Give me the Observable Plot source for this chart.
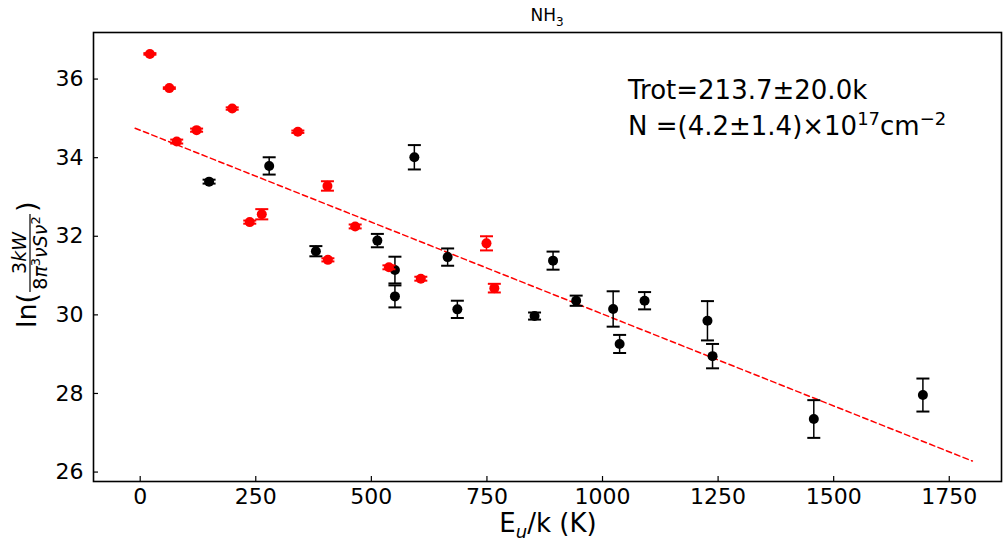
<!DOCTYPE html>
<html>
<head>
<meta charset="utf-8">
<script src="https://cdn.jsdelivr.net/npm/d3@7"></script>
<script src="https://cdn.jsdelivr.net/npm/@observablehq/plot@0.6"></script>
<style>
  html, body { margin: 0; padding: 0; background: #fff; }
  #chart { width: 1003px; height: 542px; }
  svg text { font-family: "DejaVu Sans", sans-serif; }
</style>
</head>
<body>
<div id="chart"></div>
<script>
// Red points (E_u/k, value, error)
const redX   = [21, 63, 79, 122, 199, 341, 237, 263, 405, 465, 406, 538, 607, 749, 766];
const redY   = [36.64, 35.77, 34.41, 34.70, 35.25, 34.66, 32.36, 32.56, 33.28, 32.25, 31.40, 31.21, 30.92, 31.82, 30.68];
const redErr = [0.02, 0.02, 0.05, 0.04, 0.03, 0.03, 0.04, 0.13, 0.12, 0.05, 0.04, 0.05, 0.05, 0.18, 0.11];

// Black points
const blackX   = [149, 279, 380, 513, 593, 551, 551, 665, 686, 853, 893, 943, 1023, 1037, 1091, 1227, 1238, 1457, 1693];
const blackY   = [33.39, 33.79, 31.62, 31.89, 34.01, 31.14, 30.47, 31.47, 30.14, 29.97, 31.38, 30.36, 30.15, 29.26, 30.36, 29.85, 28.95, 27.35, 27.96];
const blackErr = [0.05, 0.22, 0.13, 0.17, 0.31, 0.34, 0.28, 0.22, 0.22, 0.09, 0.23, 0.13, 0.45, 0.23, 0.22, 0.50, 0.31, 0.48, 0.42];

// Fitted line end points
const fitX = [-11, 1800];
const fitY = [34.75, 26.28];

// Ticks
const xTicks = [0, 250, 500, 750, 1000, 1250, 1500, 1750];
const yTicks = [26, 28, 30, 32, 34, 36];

const red = redX.map((x, i) => ({x, y: redY[i], e: redErr[i]}));
const black = blackX.map((x, i) => ({x, y: blackY[i], e: blackErr[i]}));
const fit = fitX.map((x, i) => ({x, y: fitY[i]}));

const W = 1003, H = 542, mL = 93, mR = 2, mT = 32, mB = 61;
const plotW = W - mL - mR, plotH = H - mT - mB;

const cap = {draw(ctx) { ctx.moveTo(-6.5, 0); ctx.lineTo(6.5, 0); }};

function errMarks(data, color) {
  return [
    Plot.ruleX(data, {x: "x", y1: d => d.y - d.e, y2: d => d.y + d.e, stroke: color, strokeWidth: 1.5}),
    Plot.dot(data, {x: "x", y: d => d.y + d.e, symbol: cap, fill: "none", stroke: color, strokeWidth: 2}),
    Plot.dot(data, {x: "x", y: d => d.y - d.e, symbol: cap, fill: "none", stroke: color, strokeWidth: 2}),
    Plot.dot(data, {x: "x", y: "y", r: 5, fill: color, stroke: "none"})
  ];
}

const chart = Plot.plot({
  width: W, height: H,
  marginLeft: mL, marginRight: mR, marginTop: mT, marginBottom: mB,
  style: {fontFamily: "DejaVu Sans", background: "white", color: "black"},
  x: {domain: [-101, 1863]},
  y: {domain: [25.76, 37.185]},
  marks: [
    Plot.line(fit, {x: "x", y: "y", stroke: "#ff0000", strokeWidth: 1.5, strokeDasharray: "5.5,3.5"}),
    ...errMarks(black, "black"),
    ...errMarks(red, "#ff0000"),
    Plot.ruleX(xTicks, {x: d => d, insetTop: plotH - 5, stroke: "black", strokeWidth: 1.2}),
    Plot.ruleY(yTicks, {y: d => d, insetRight: plotW - 5, stroke: "black", strokeWidth: 1.2}),
    Plot.axisX({ticks: xTicks, tickFormat: d => String(d), tickSize: 0, tickPadding: 7, fontSize: 22, label: null}),
    Plot.axisY({ticks: yTicks, tickFormat: d => String(d), tickSize: 0, tickPadding: 10, fontSize: 22, label: null}),
    Plot.frame({stroke: "black", strokeWidth: 1.6})
  ]
});

document.getElementById("chart").appendChild(chart);

const svg = d3.select(chart);
const ann = svg.append("g").attr("fill", "black").attr("text-anchor", "start").style("font-family", "DejaVu Sans");

// Title
const t = ann.append("text").attr("x", 547).attr("y", 21).attr("text-anchor", "middle").attr("font-size", 17);
t.append("tspan").text("NH");
t.append("tspan").attr("dy", 5).attr("font-size", 12).text("3");

// X label
const xl = ann.append("text").attr("x", 548).attr("y", 532).attr("text-anchor", "middle").attr("font-size", 26);
xl.append("tspan").text("E");
xl.append("tspan").attr("dy", 6).attr("font-size", 18).attr("font-style", "italic").text("u");
xl.append("tspan").attr("dy", -6).text("/k (K)");

// Y label (rotated)
const yl = ann.append("g").attr("transform", "rotate(-90)");
yl.append("text").attr("x", -328).attr("y", 36).attr("text-anchor", "start").attr("font-size", 27).text("ln(");
yl.append("line").attr("x1", -292).attr("x2", -214).attr("y1", 30).attr("y2", 30).attr("stroke", "black").attr("stroke-width", 1.2);
const num = yl.append("text").attr("x", -253).attr("y", 26).attr("text-anchor", "middle").attr("font-size", 19);
num.append("tspan").text("3");
num.append("tspan").attr("font-style", "italic").text("kW");
const den = yl.append("text").attr("x", -253).attr("y", 47).attr("text-anchor", "middle").attr("font-size", 19);
den.append("tspan").text("8");
den.append("tspan").attr("font-style", "italic").text("π");
den.append("tspan").attr("dy", -7).attr("font-size", 13).text("3");
den.append("tspan").attr("dy", 7).attr("font-style", "italic").text("νSν");
den.append("tspan").attr("dy", -7).attr("font-size", 13).text("2");
yl.append("text").attr("x", -212).attr("y", 36).attr("text-anchor", "start").attr("font-size", 27).text(")");

// Annotation
ann.append("text").attr("x", 628).attr("y", 99).attr("font-size", 26).text("Trot=213.7±20.0k");
const n = ann.append("text").attr("x", 628).attr("y", 135).attr("font-size", 26);
n.append("tspan").text("N =(4.2±1.4)×10");
n.append("tspan").attr("dy", -10).attr("font-size", 18).text("17");
n.append("tspan").attr("dy", 10).text("cm");
n.append("tspan").attr("dy", -10).attr("font-size", 18).text("−2");
</script>
</body>
</html>
